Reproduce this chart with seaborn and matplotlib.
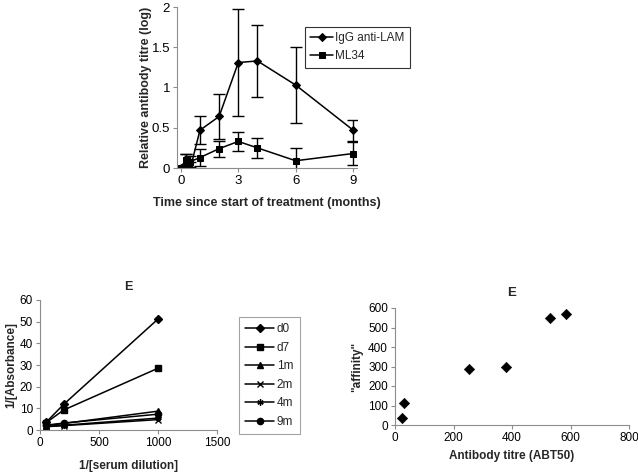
import numpy as np
import pandas as pd
import matplotlib
matplotlib.use("Agg")
import matplotlib.pyplot as plt
import seaborn as sns

sns.set_theme(style="white")
plt.rcParams["font.family"] = ["Liberation Sans", "DejaVu Sans"]

# --- top panel: antibody titre over time ---
months = [0, 0.25, 0.5, 1, 2, 3, 4, 6, 9]
igg_mean = [0.0, 0.05, 0.0, 0.47, 0.64, 1.31, 1.33, 1.03, 0.47]
igg_err = [0.0, 0.12, 0.08, 0.17, 0.28, 0.66, 0.45, 0.47, 0.13]
ml34_mean = [0.0, 0.10, 0.08, 0.13, 0.24, 0.33, 0.25, 0.09, 0.18]
ml34_err = [0.0, 0.08, 0.07, 0.11, 0.10, 0.12, 0.12, 0.16, 0.14]

# --- bottom left: double reciprocal plot ---
recip_dilution = [50, 200, 1000]
series_names = ["d0", "d7", "1m", "2m", "4m", "9m"]
recip_abs = {
    "d0": [3.5, 11.8, 51.2],
    "d7": [3.3, 9.2, 28.5],
    "1m": [2.0, 3.0, 8.7],
    "2m": [1.5, 2.0, 4.8],
    "4m": [1.6, 2.2, 5.5],
    "9m": [2.2, 3.2, 7.3],
}
series_markers = {"d0": "D", "d7": "s", "1m": "^", "2m": "x", "4m": (6, 2, 0), "9m": "o"}

# --- bottom right: affinity vs titre ---
titre = [23, 31, 254, 381, 531, 585]
affinity = [37, 115, 287, 298, 551, 568]

fig = plt.figure(figsize=(6.38, 4.73), dpi=100)
W, H = 638, 473


def px_axes(x0, y0, x1, y1):
    return fig.add_axes([x0 / W, 1 - y1 / H, (x1 - x0) / W, (y1 - y0) / H])


def excel_style(ax, fs):
    sns.despine(ax=ax)
    for s in ["left", "bottom"]:
        ax.spines[s].set_color("#8c8c8c")
        ax.spines[s].set_linewidth(0.8)
    ax.tick_params(bottom=True, left=True, length=3, width=0.8, color="#8c8c8c",
                   labelsize=fs, pad=2, labelcolor="black")


# top panel
ax1 = px_axes(177, 7, 357, 168)
top_df = pd.DataFrame({
    "month": months * 2,
    "titre": igg_mean + ml34_mean,
    "group": ["IgG anti-LAM"] * len(months) + ["ML34"] * len(months),
})
sns.lineplot(data=top_df, x="month", y="titre", hue="group", style="group",
             markers={"IgG anti-LAM": "D", "ML34": "s"}, dashes=False,
             palette=["black", "black"], markersize=4.5, linewidth=1.1,
             markeredgecolor="black", ax=ax1)
ax1.errorbar(months, igg_mean, yerr=igg_err, fmt="none", ecolor="black",
             elinewidth=1, capsize=4.5, capthick=1)
ax1.errorbar(months, ml34_mean, yerr=ml34_err, fmt="none", ecolor="black",
             elinewidth=1, capsize=4.5, capthick=1)
ax1.set_xlim(-0.2, 9.2)
ax1.set_ylim(0, 2)
ax1.set_xticks([0, 3, 6, 9])
ax1.set_yticks([0, 0.5, 1, 1.5, 2])
ax1.yaxis.set_major_formatter(plt.FuncFormatter(lambda v, _: f"{v:g}"))
excel_style(ax1, 9.5)
ax1.set_xlabel("Time since start of treatment (months)", fontsize=9, fontweight="bold", labelpad=7)
ax1.set_ylabel("Relative antibody titre (log)", fontsize=9, fontweight="bold", labelpad=0)
h, l = ax1.get_legend_handles_labels()
leg1 = ax1.legend(h, l, loc="upper left", bbox_to_anchor=(305 / W, 1 - 27 / H),
                  bbox_transform=fig.transFigure, borderaxespad=0, fontsize=8.5,
                  frameon=True, fancybox=False, edgecolor="black", handlelength=1.9,
                  labelspacing=0.5, borderpad=0.45, handletextpad=0.2)
leg1.get_frame().set_linewidth(0.8)

# bottom left panel
ax2 = px_axes(40, 300, 217, 430)
for name in series_names:
    sns.lineplot(x=recip_dilution, y=recip_abs[name], marker=series_markers[name],
                 color="black", markersize=4.5, linewidth=1.1, markeredgecolor="black",
                 markeredgewidth=1, label=name, ax=ax2)
ax2.set_xlim(0, 1500)
ax2.set_ylim(0, 60)
ax2.set_xticks([0, 500, 1000, 1500])
ax2.set_yticks(np.arange(0, 61, 10))
excel_style(ax2, 8.5)
ax2.set_title("E", fontsize=9, fontweight="bold", pad=7)
ax2.set_xlabel("1/[serum dilution]", fontsize=8.5, fontweight="bold", labelpad=8)
ax2.set_ylabel("1/[Absorbance]", fontsize=8.5, fontweight="bold", labelpad=2)
h, l = ax2.get_legend_handles_labels()
leg2 = ax2.legend(h, l, loc="upper left", bbox_to_anchor=(239 / W, 1 - 317 / H),
                  bbox_transform=fig.transFigure, borderaxespad=0, fontsize=8.5,
                  frameon=True, fancybox=False, edgecolor="#8c8c8c", handlelength=2.4,
                  labelspacing=0.55, borderpad=0.55, handletextpad=0.25)
leg2.get_frame().set_linewidth(0.8)

# bottom right panel
ax3 = px_axes(395, 308, 629, 425)
sns.scatterplot(x=titre, y=affinity, marker="D", color="black", s=28,
                edgecolor="black", ax=ax3)
ax3.set_xlim(0, 800)
ax3.set_ylim(0, 600)
ax3.set_xticks(np.arange(0, 801, 200))
ax3.set_yticks(np.arange(0, 601, 100))
excel_style(ax3, 8.5)
ax3.set_title("E", fontsize=9.5, fontweight="bold", pad=9)
ax3.set_xlabel("Antibody titre (ABT50)", fontsize=8.5, fontweight="bold", labelpad=4)
ax3.set_ylabel("\"affinity\"", fontsize=8.5, fontweight="bold", labelpad=4)

fig.savefig("out.png", dpi=100)
